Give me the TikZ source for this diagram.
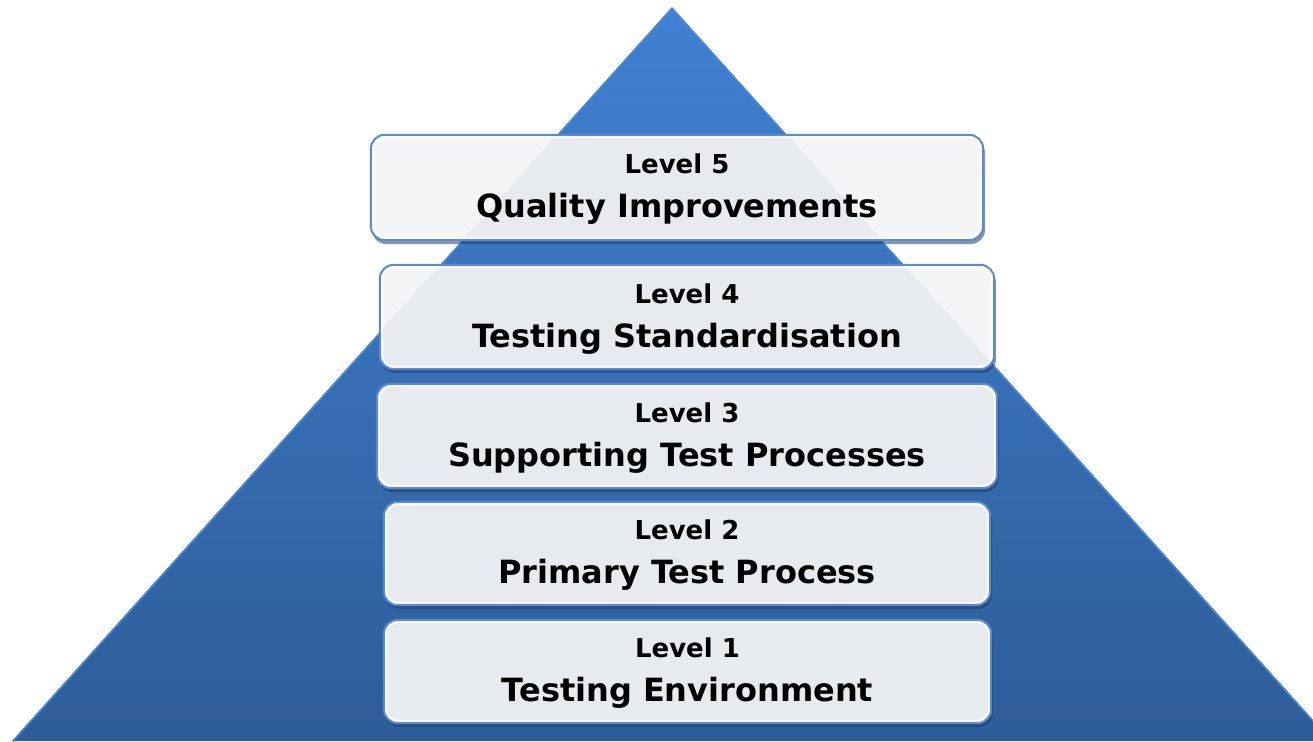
\documentclass[tikz,border=0pt]{standalone}
\usepackage{fontspec}
\setmainfont{DejaVu Sans}
\usetikzlibrary{calc}
\definecolor{tritop}{HTML}{4080D2}
\definecolor{tribot}{HTML}{2E5D98}
\definecolor{triedge}{HTML}{4A88D4}
\definecolor{boxout}{HTML}{F4F5F6}
\definecolor{boxin}{HTML}{E7EAEF}
\definecolor{boxline}{HTML}{5B8BCB}
\definecolor{boxshadow}{HTML}{1E3F6C}
\tikzset{
  levelbox/.style={fill=boxout, rounded corners=14pt, inner sep=0pt, draw=none},
  lvltext/.style={font=\fontsize{26}{30}\selectfont\bfseries, inner sep=0pt, anchor=base},
  titletext/.style={font=\fontsize{32}{38}\selectfont\bfseries, inner sep=0pt, anchor=base},
}
\newcommand{\trianglepath}{(12,741) -- (672,7) -- (1332,741) -- cycle}
\newcommand{\lvlbox}[7]{%
  \fill[boxshadow, opacity=0.55, rounded corners=14pt] ({#2+1},{#3+4}) rectangle ({#4+2},{#5+4});
  \node[levelbox, minimum width={(#4-#2)*1pt}, minimum height={(#5-#3)*1pt}] (#1) at ({(#2+#4)/2},{(#3+#5)/2}) {};
  \begin{scope}
    \clip \trianglepath;
    \fill[boxin, rounded corners=14pt] (#1.south west) rectangle (#1.north east);
  \end{scope}
  \draw[white, line width=1.5pt, rounded corners=12pt] ($(#1.south west)+(2.5,-2.5)$) rectangle ($(#1.north east)+(-2.5,2.5)$);
  \draw[boxline, line width=2pt, rounded corners=14pt] (#1.south west) rectangle (#1.north east);
  \node[lvltext] (#1a) at ($(#1.center)+(0,-14)$) {#6};
  \node[titletext] (#1b) at ($(#1.center)+(0,30)$) {#7};
}
\begin{document}
\begin{tikzpicture}[x=1pt,y=-1pt]
\useasboundingbox (0,0) rectangle (1313,741);
\begin{scope}
  \clip (0,0) rectangle (1313,741);
  \shade[top color=tritop, bottom color=tribot] \trianglepath;
  \draw[triedge, line width=1.5pt, line join=miter] (13,741) -- (672,8.5) -- (1331,741);
\end{scope}
\lvlbox{l5}{371}{135}{983}{240}{Level 5}{Quality Improvements}
\lvlbox{l4}{380}{265}{994}{369}{Level 4}{Testing Standardisation}
\lvlbox{l3}{377}{384}{997}{488}{Level 3}{Supporting Test Processes}
\lvlbox{l2}{384}{502}{990}{605}{Level 2}{Primary Test Process}
\lvlbox{l1}{384}{620}{991}{723}{Level 1}{Testing Environment}
\end{tikzpicture}
\end{document}
